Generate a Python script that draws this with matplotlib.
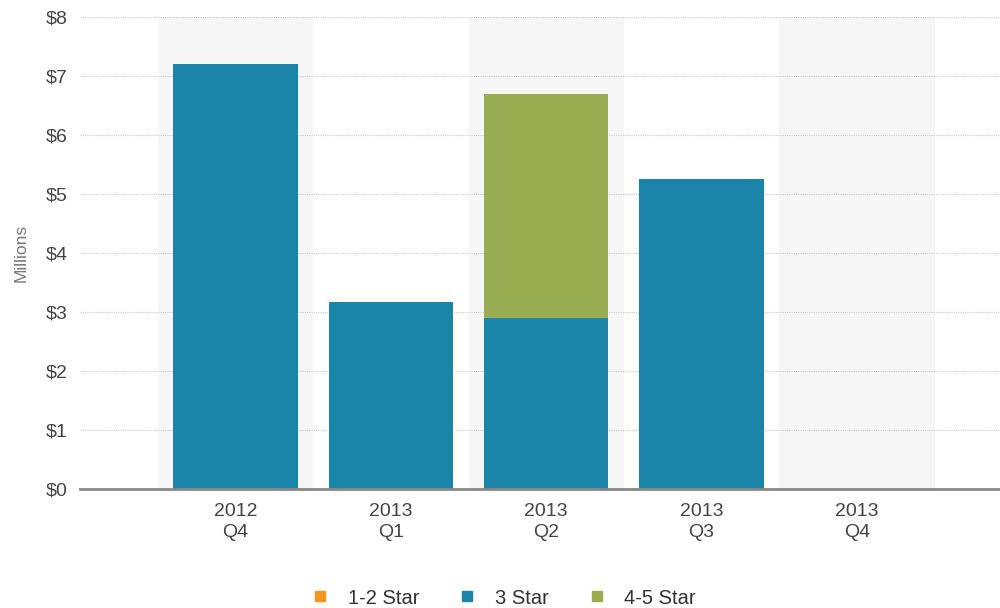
import matplotlib.pyplot as plt
import numpy as np
from matplotlib.lines import Line2D

plt.rcParams['font.family'] = ['Liberation Sans', 'DejaVu Sans']

# data (millions of dollars)
quarters = ['2012\nQ4', '2013\nQ1', '2013\nQ2', '2013\nQ3', '2013\nQ4']
star_1_2 = [0, 0, 0, 0, 0]
star_3 = [7.2, 3.16, 2.89, 5.25, 0]
star_4_5 = [0, 0, 3.8, 0, 0]
series_names = ['1-2 Star', '3 Star', '4-5 Star']
colors = ['#f7941d', '#1a85a8', '#9aad52']

fig = plt.figure(figsize=(10, 6.08), dpi=100)
ax = fig.add_axes([0.08, 0.196, 0.92, 0.776])

x = np.arange(len(quarters))

# alternating background bands
for i in x[::2]:
    ax.axvspan(i - 0.5, i + 0.5, color='#f6f6f6', zorder=0, lw=0)

b1 = np.array(star_1_2)
b2 = b1 + np.array(star_3)
ax.bar(x, star_1_2, width=0.8, color=colors[0], zorder=3)
ax.bar(x, star_3, width=0.8, bottom=b1, color=colors[1], zorder=3)
ax.bar(x, star_4_5, width=0.8, bottom=b2, color=colors[2], zorder=3)

ax.set_xlim(-1.0, 4.92)
ax.set_ylim(0, 8)
ax.set_yticks(range(0, 9))
ax.set_yticklabels([f'${v}' for v in range(0, 9)])
ax.set_xticks(x)
ax.set_xticklabels(quarters, linespacing=1.35)

ax.yaxis.grid(True, color='#cccccc', linestyle=(0, (1, 1)), linewidth=0.8, zorder=1)
ax.set_axisbelow(True)
for s in ['top', 'right', 'left']:
    ax.spines[s].set_visible(False)
ax.spines['bottom'].set_color('#888888')
ax.spines['bottom'].set_linewidth(2)
ax.spines['bottom'].set_zorder(4)

ax.tick_params(axis='both', length=0, labelsize=14, labelcolor='#444444')
ax.tick_params(axis='x', pad=10)
ax.tick_params(axis='y', pad=9)

ax.set_ylabel('Millions', fontsize=12.5, color='#777777', labelpad=12)

handles = [Line2D([], [], marker='s', linestyle='none', markersize=7.5,
                  markerfacecolor=c, markeredgecolor=c) for c in colors]
fig.legend(handles, series_names, loc='center', ncol=3, frameon=False,
           fontsize=14.5, bbox_to_anchor=(0.505, 10 / 608), columnspacing=2.1,
           handlelength=0.6, handletextpad=1.05, labelcolor='#333333',
           borderpad=0)

fig.savefig('out.png', dpi=100)
